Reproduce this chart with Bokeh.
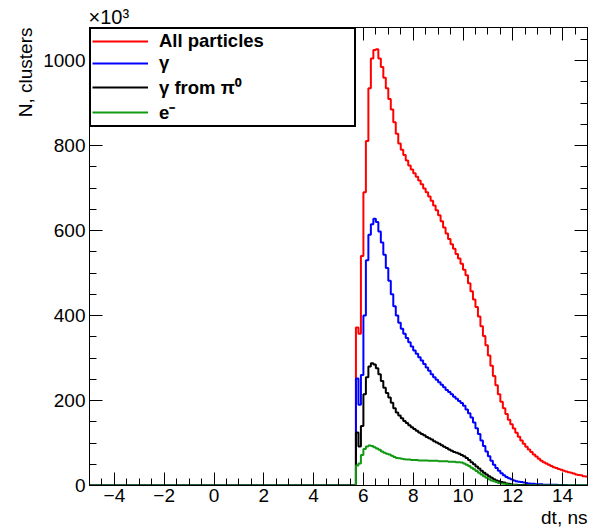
import numpy as np
from bokeh.plotting import figure
from bokeh.models import (Range1d, FixedTicker, LinearAxis, Legend, LegendItem, Title)
from bokeh.embed import file_html
from bokeh.resources import INLINE

# ---------------- data (values in units of 10^3 clusters) ----------------
bin_start = 5.7
bin_width = 0.1

all_particles = [372, 357, 540, 690, 811, 935, 1005, 1025, 1027, 1005,
                 985, 960, 935, 910, 885, 855, 828, 805, 790, 778,
                 765, 753, 744, 735, 727, 718, 709, 699, 690, 680,
                 670, 659, 648, 636, 622, 607, 593, 580, 568, 557,
                 545, 534, 522, 508, 495, 476, 457, 438, 420, 398,
                 375, 352, 330, 306, 282, 258, 236, 215, 197, 182,
                 168, 155, 144, 134, 124, 115, 106, 98, 91, 85,
                 79, 73, 68, 63, 58, 55, 52, 49, 46, 43,
                 41, 39, 37, 35, 33, 31, 30, 28, 26, 25,
                 24, 22, 21]

gamma = [252, 190, 260, 400, 530, 590, 615, 628, 620, 598,
         572, 543, 512, 482, 450, 422, 400, 383, 369, 357,
         347, 337, 327, 318, 310, 302, 294, 286, 278, 270,
         262, 255, 249, 243, 237, 231, 225, 220, 215, 209,
         204, 199, 194, 188, 179, 170, 160, 148, 135, 121,
         106, 93, 80, 69, 58, 49, 41, 35, 29, 24,
         20, 17, 15, 12, 10, 9, 8, 7, 6, 5,
         4, 4, 3, 3, 3, 2, 2, 2, 2, 2,
         2, 1, 1, 1, 1, 0, 0, 0, 0, 0,
         0, 0, 0]

gamma_pi0 = [125, 92, 140, 215, 255, 280, 288, 285, 276, 262,
             246, 230, 218, 207, 195, 182, 172, 165, 158, 152,
             147, 142, 137, 133, 129, 125, 121, 118, 114, 111,
             108, 104, 101, 98, 95, 91, 88, 85, 82, 79,
             77, 75, 72, 69, 65, 60, 55, 50, 45, 40,
             35, 30, 26, 22, 18, 15, 12, 10, 8, 7,
             5, 4, 3, 2, 2, 1, 1, 1, 1, 0.5,
             0, 0, 0, 0, 0, 0, 0, 0, 0, 0,
             0, 0, 0, 0, 0, 0, 0, 0, 0, 0,
             0, 0, 0]

electrons = [47, 52, 72, 86, 92, 94, 93, 90, 87, 84,
             80, 77, 75, 73, 70, 67, 65, 64, 63, 62,
             61, 61, 60, 60, 60, 59, 59, 59, 59, 58,
             58, 58, 58, 57, 57, 57, 57, 56, 56, 56,
             55, 55, 54, 52, 49, 46, 42, 38, 34, 30,
             26, 22, 18, 15, 12, 10, 8, 6, 5, 4,
             3, 2, 1.5, 1, 0.5, 0, 0, 0, 0, 0,
             0, 0, 0, 0, 0, 0, 0, 0, 0, 0,
             0, 0, 0, 0, 0, 0, 0, 0, 0, 0,
             0, 0, 0]

series_labels = ["All particles", "\u03b3", "\u03b3 from \u03c0\u2070", "e\u207b"]
series_colors = ["#ff0000", "#0000ff", "#000000", "#119911"]

x_major = [-4, -2, 0, 2, 4, 6, 8, 10, 12, 14]
y_major = [0, 200, 400, 600, 800, 1000]

X_MIN, X_MAX = -5.0, 15.0
Y_MIN, Y_MAX = 0.0, 1078.0

FONT = "Liberation Sans"
FS = "19px"

p = figure(width=604, height=531, output_backend="svg", toolbar_location=None,
           x_range=Range1d(X_MIN, X_MAX), y_range=Range1d(Y_MIN, Y_MAX),
           min_border_left=89, min_border_right=17, min_border_top=27, min_border_bottom=46,
           x_axis_location=None, y_axis_location=None, title="\u00d710\u00b3")
p.grid.visible = False
p.outline_line_color = "black"
p.outline_line_width = 1
p.outline_line_alpha = 1
p.background_fill_color = "white"
p.border_fill_color = "white"

p.title.align = "left"
p.title.text_font = FONT
p.title.text_font_size = "20px"
p.title.text_font_style = "normal"
p.title.text_color = "black"
p.title.standoff = 0
p.title.offset = -1

x_minor = list(np.arange(X_MIN, X_MAX + 0.001, 0.5))
y_minor = list(np.arange(0, Y_MAX, 50))


def make_axis(ticker_major, ticker_minor, show_labels):
    ax = LinearAxis(ticker=FixedTicker(ticks=ticker_major, minor_ticks=ticker_minor))
    ax.major_tick_in = 13
    ax.major_tick_out = 0
    ax.minor_tick_in = 7
    ax.minor_tick_out = 0
    ax.axis_line_color = "black"
    ax.major_tick_line_color = "black"
    ax.minor_tick_line_color = "black"
    ax.major_tick_line_width = 1
    ax.minor_tick_line_width = 1
    if show_labels:
        ax.major_label_text_font = FONT
        ax.major_label_text_font_size = FS
        ax.major_label_text_color = "black"
    else:
        ax.major_label_text_font_size = "0px"
        ax.major_label_standoff = 0
    return ax


xb = make_axis(x_major, x_minor, True)
xb.major_label_standoff = 3
xb.major_label_overrides = {v: ("\u2212" + str(-v)) if v < 0 else str(v) for v in x_major}
yl = make_axis(y_major, y_minor, True)
yl.major_label_standoff = 4
xt = make_axis(x_major, x_minor, False)
yr = make_axis(y_major, y_minor, False)
p.add_layout(xb, "below")
p.add_layout(yl, "left")
p.add_layout(xt, "above")
p.add_layout(yr, "right")

# axis titles (ROOT style: aligned to the far ends of the axes)
p.add_layout(Title(text="dt, ns", align="right", text_font=FONT, text_font_size=FS,
                   text_font_style="normal", text_color="black", standoff=0), "below")
p.add_layout(Title(text="N, clusters", align="right", text_font=FONT, text_font_size=FS,
                   text_font_style="normal", text_color="black", standoff=10), "left")

# histogram outlines
edges = [X_MIN] + [round(bin_start + i * bin_width, 3) for i in range(len(all_particles) + 1)]
renderers = []
for vals, col in zip([all_particles, gamma, gamma_pi0, electrons], series_colors):
    ys = [0] + list(vals) + [vals[-1]]
    r = p.step(x=edges, y=ys, mode="after", line_color=col, line_width=2)
    renderers.append(r)

legend = Legend(items=[LegendItem(label=lab, renderers=[r]) for lab, r in zip(series_labels, renderers)],
                location="top_left")
legend.margin = 0
legend.padding = 1
legend.spacing = -2
legend.glyph_width = 56
legend.glyph_height = 18
legend.label_height = 18
legend.label_standoff = 11
legend.label_width = 194
legend.label_text_font = FONT
legend.label_text_font_size = "18.5px"
legend.label_text_font_style = "bold"
legend.label_text_color = "black"
legend.border_line_color = "black"
legend.border_line_alpha = 1.0
legend.border_line_width = 2
legend.background_fill_color = "white"
legend.background_fill_alpha = 1.0
p.add_layout(legend, "center")

open("out.html", "w").write(file_html(p, INLINE))
